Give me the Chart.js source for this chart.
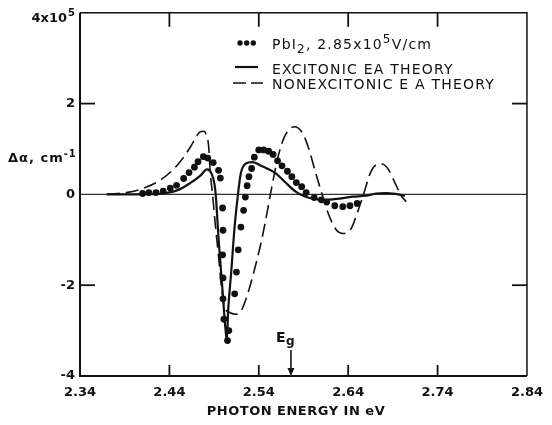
<!DOCTYPE html>
<html><head><meta charset="utf-8">
<script src="https://cdn.jsdelivr.net/npm/chart.js@4.4.1/dist/chart.umd.min.js"></script>
<style>html,body{margin:0;padding:0;background:#fff}#wrap{width:552px;height:425px}</style>
</head><body><div id="wrap"><canvas id="c" width="552" height="425"></canvas></div>
<script>
const xTicks = [2.34, 2.44, 2.54, 2.64, 2.74, 2.84];
const yTicks = [-4, -2, 0, 2, 4];
const innerXTicks = [2.44, 2.54, 2.64, 2.74];
const innerYTicks = [-2, 2];
const xTitle = 'PHOTON ENERGY IN eV';

// PbI2 measured points (units of 1e5 cm^-1)
const dotsX = [2.410,2.417,2.425,2.433,2.441,2.448,2.456,2.462,2.468,2.472,2.478,2.483,2.489,2.495,2.497,2.4995,2.500,2.4995,2.500,2.500,2.501,2.5065,2.505,2.513,2.515,2.517,2.520,2.523,2.525,2.527,2.529,2.532,2.535,2.540,2.5455,2.551,2.556,2.561,2.566,2.572,2.577,2.582,2.588,2.593,2.602,2.610,2.616,2.625,2.634,2.642,2.650];
const dotsY = [0.02,0.04,0.04,0.07,0.14,0.20,0.35,0.48,0.60,0.72,0.83,0.80,0.70,0.53,0.36,-0.30,-0.79,-1.33,-1.84,-2.30,-2.75,-3.00,-3.22,-2.19,-1.71,-1.22,-0.72,-0.35,-0.06,0.19,0.39,0.57,0.82,0.98,0.98,0.95,0.88,0.74,0.63,0.51,0.39,0.26,0.17,0.04,-0.07,-0.12,-0.17,-0.25,-0.27,-0.25,-0.20];

// Excitonic EA theory (solid)
const excX = [2.370,2.400,2.431,2.450,2.464,2.475,2.482,2.4875,2.4905,2.4918,2.4951,2.4990,2.5029,2.5043,2.5057,2.5092,2.5128,2.5165,2.5201,2.5255,2.5328,2.5437,2.558,2.569,2.580,2.591,2.602,2.6125,2.627,2.645,2.660,2.671,2.682,2.693,2.7035];
const excY = [0,0,0.02,0.10,0.26,0.42,0.55,0.44,0.22,0,-1.0,-2.0,-3.0,-3.2,-2.57,-1.70,-0.75,-0.03,0.48,0.68,0.71,0.62,0.48,0.28,0.08,-0.04,-0.10,-0.12,-0.10,-0.05,-0.03,0.02,0.03,0.01,-0.03];

// Nonexcitonic EA theory (dashed)
const nonX = [2.370,2.395,2.413,2.431,2.4495,2.464,2.470,2.4745,2.4785,2.4815,2.4839,2.4857,2.4883,2.4911,2.4948,2.4984,2.502,2.5074,2.5147,2.5201,2.5274,2.5346,2.5419,2.5473,2.5527,2.5617,2.569,2.5799,2.5889,2.5962,2.6035,2.6107,2.6179,2.627,2.6342,2.6433,2.6505,2.6578,2.665,2.6723,2.6777,2.685,2.6922,2.6995,2.7049];
const nonY = [0,0.05,0.15,0.33,0.66,1.06,1.27,1.38,1.39,1.30,1.06,0.48,0,-0.61,-1.33,-2.06,-2.49,-2.60,-2.64,-2.57,-2.20,-1.70,-1.12,-0.61,-0.03,0.84,1.28,1.49,1.35,0.99,0.48,0.01,-0.43,-0.79,-0.86,-0.75,-0.39,0.04,0.48,0.66,0.67,0.55,0.26,-0.03,-0.16];

const egEnergy = 2.576;

const zip = (xs, ys) => xs.map((x, i) => ({x, y: ys[i]}));
const INK = '#111';
const FONT = '"DejaVu Sans", sans-serif';
Chart.defaults.font.family = FONT;
Chart.defaults.color = INK;

const decor = {
  id: 'decor',
  beforeDatasetsDraw(chart) {
    const {ctx, chartArea: a, scales: {y}} = chart;
    ctx.save();
    ctx.strokeStyle = '#333';
    ctx.lineWidth = 1.3;
    const y0 = y.getPixelForValue(0);
    ctx.beginPath(); ctx.moveTo(a.left, y0); ctx.lineTo(a.right, y0); ctx.stroke();
    ctx.restore();
  },
  afterDatasetsDraw(chart) {
    const {ctx, chartArea: a, scales: {x, y}} = chart;
    ctx.save();
    ctx.strokeStyle = INK;
    ctx.lineWidth = 2;
    ctx.beginPath(); ctx.moveTo(a.left, a.top); ctx.lineTo(a.left, a.bottom); ctx.lineTo(a.right, a.bottom); ctx.stroke();
    ctx.lineWidth = 1.5;
    ctx.beginPath(); ctx.moveTo(a.left, a.top); ctx.lineTo(a.right, a.top); ctx.lineTo(a.right, a.bottom); ctx.stroke();
    ctx.lineWidth = 1.8;
    innerXTicks.forEach(v => {
      const px = x.getPixelForValue(v);
      ctx.beginPath(); ctx.moveTo(px, a.top); ctx.lineTo(px, a.top + 14); ctx.stroke();
      ctx.beginPath(); ctx.moveTo(px, a.bottom); ctx.lineTo(px, a.bottom - 11); ctx.stroke();
    });
    innerYTicks.forEach(v => {
      const py = y.getPixelForValue(v);
      ctx.beginPath(); ctx.moveTo(a.left, py); ctx.lineTo(a.left + 15, py); ctx.stroke();
      ctx.beginPath(); ctx.moveTo(a.right, py); ctx.lineTo(a.right - 15, py); ctx.stroke();
    });
    ctx.restore();
  },
  afterDraw(chart) {
    const {ctx, chartArea: a, scales: {x, y}} = chart;
    ctx.save();
    ctx.fillStyle = INK; ctx.strokeStyle = INK;
    ctx.textBaseline = 'alphabetic'; ctx.textAlign = 'left';

    // top y tick label 4x10^5
    ctx.font = 'bold 13px ' + FONT;
    const base = '4x10';
    const bw = ctx.measureText(base).width;
    ctx.font = 'bold 10px ' + FONT;
    const sw = ctx.measureText('5').width;
    const right = a.left - 5;
    ctx.font = 'bold 13px ' + FONT;
    ctx.fillText(base, right - sw - bw - 1, 22);
    ctx.font = 'bold 10px ' + FONT;
    ctx.fillText('5', right - sw, 16);

    // y axis title
    ctx.letterSpacing = '1px';
    ctx.font = 'bold 13px ' + FONT;
    let tx = 8;
    ctx.fillText('Δα, cm', tx, 162);
    tx += ctx.measureText('Δα, cm').width;
    ctx.font = 'bold 10px ' + FONT;
    ctx.fillText('-1', tx, 157);

    // x axis title
    ctx.letterSpacing = '0.5px';
    ctx.font = 'bold 13px ' + FONT;
    ctx.textAlign = 'center';
    ctx.fillText(xTitle, 296, 415);
    ctx.textAlign = 'left';

    // legend
    ctx.letterSpacing = '1.2px';
    [240, 246.7, 253.3].forEach(cx => { ctx.beginPath(); ctx.arc(cx, 43, 2.7, 0, Math.PI * 2); ctx.fill(); });
    const seq = [['PbI', 0, 14], ['2', 4, 12], [', 2.85x10', 0, 14], ['5', -6, 12], ['V/cm', 0, 14]];
    tx = 272;
    seq.forEach(([t, dy, fs]) => {
      ctx.font = fs + 'px ' + FONT;
      ctx.fillText(t, tx, 49 + dy);
      tx += ctx.measureText(t).width;
    });
    ctx.font = '14px ' + FONT;
    ctx.fillText('EXCITONIC EA THEORY', 272, 74);
    ctx.fillText('NONEXCITONIC E A THEORY', 272, 89);
    ctx.letterSpacing = '0px';
    ctx.lineWidth = 2.2;
    ctx.beginPath(); ctx.moveTo(235, 67); ctx.lineTo(258, 67); ctx.stroke();
    ctx.lineWidth = 1.6;
    ctx.beginPath(); ctx.moveTo(233, 83); ctx.lineTo(246, 83); ctx.moveTo(251, 83); ctx.lineTo(263, 83); ctx.stroke();

    // Eg arrow
    const ex = x.getPixelForValue(egEnergy);
    ctx.font = 'bold 14px ' + FONT;
    ctx.fillText('E', ex - 15, 342);
    ctx.font = 'bold 12px ' + FONT;
    ctx.fillText('g', ex - 5, 345);
    ctx.lineWidth = 1.6;
    ctx.beginPath(); ctx.moveTo(ex, 350); ctx.lineTo(ex, a.bottom - 4); ctx.stroke();
    ctx.beginPath(); ctx.moveTo(ex - 3.5, a.bottom - 8); ctx.lineTo(ex + 3.5, a.bottom - 8); ctx.lineTo(ex, a.bottom); ctx.closePath(); ctx.fill();
    ctx.restore();
  }
};

new Chart(document.getElementById('c'), {
  type: 'scatter',
  data: {
    datasets: [
      { label: 'PbI2, 2.85x10^5 V/cm', data: zip(dotsX, dotsY), showLine: false,
        pointRadius: 3.4, pointBackgroundColor: INK, pointBorderWidth: 0, pointHoverRadius: 3.4 },
      { label: 'EXCITONIC EA THEORY', data: zip(excX, excY), showLine: true, pointRadius: 0,
        borderColor: INK, borderWidth: 2.2, cubicInterpolationMode: 'monotone' },
      { label: 'NONEXCITONIC EA THEORY', data: zip(nonX, nonY), showLine: true, pointRadius: 0,
        borderColor: INK, borderWidth: 1.6, borderDash: [13, 6], cubicInterpolationMode: 'monotone' }
    ]
  },
  options: {
    responsive: false,
    animation: false,
    layout: { padding: { top: 8, right: 16, left: 0, bottom: 0 } },
    plugins: { legend: { display: false }, tooltip: { enabled: false } },
    scales: {
      x: {
        type: 'linear', min: 2.34, max: 2.84,
        afterBuildTicks: s => { s.ticks = xTicks.map(v => ({value: v})); },
        afterFit: s => { s.height = 49; },
        ticks: { callback: v => Number(v).toFixed(2), font: { size: 13, weight: 'bold' }, color: INK, padding: 9, maxRotation: 0, autoSkip: false },
        grid: { display: false, drawTicks: false },
        border: { display: false },
        title: { display: false, text: xTitle }
      },
      y: {
        type: 'linear', min: -4, max: 4,
        afterBuildTicks: s => { s.ticks = yTicks.map(v => ({value: v})); },
        afterFit: s => { s.width = 80; },
        ticks: { callback: v => (v === 4 ? '' : String(v)), font: { size: 13, weight: 'bold' }, color: INK, padding: 5, autoSkip: false },
        grid: { display: false, drawTicks: false },
        border: { display: false }
      }
    }
  },
  plugins: [decor]
});
</script>
</body></html>
